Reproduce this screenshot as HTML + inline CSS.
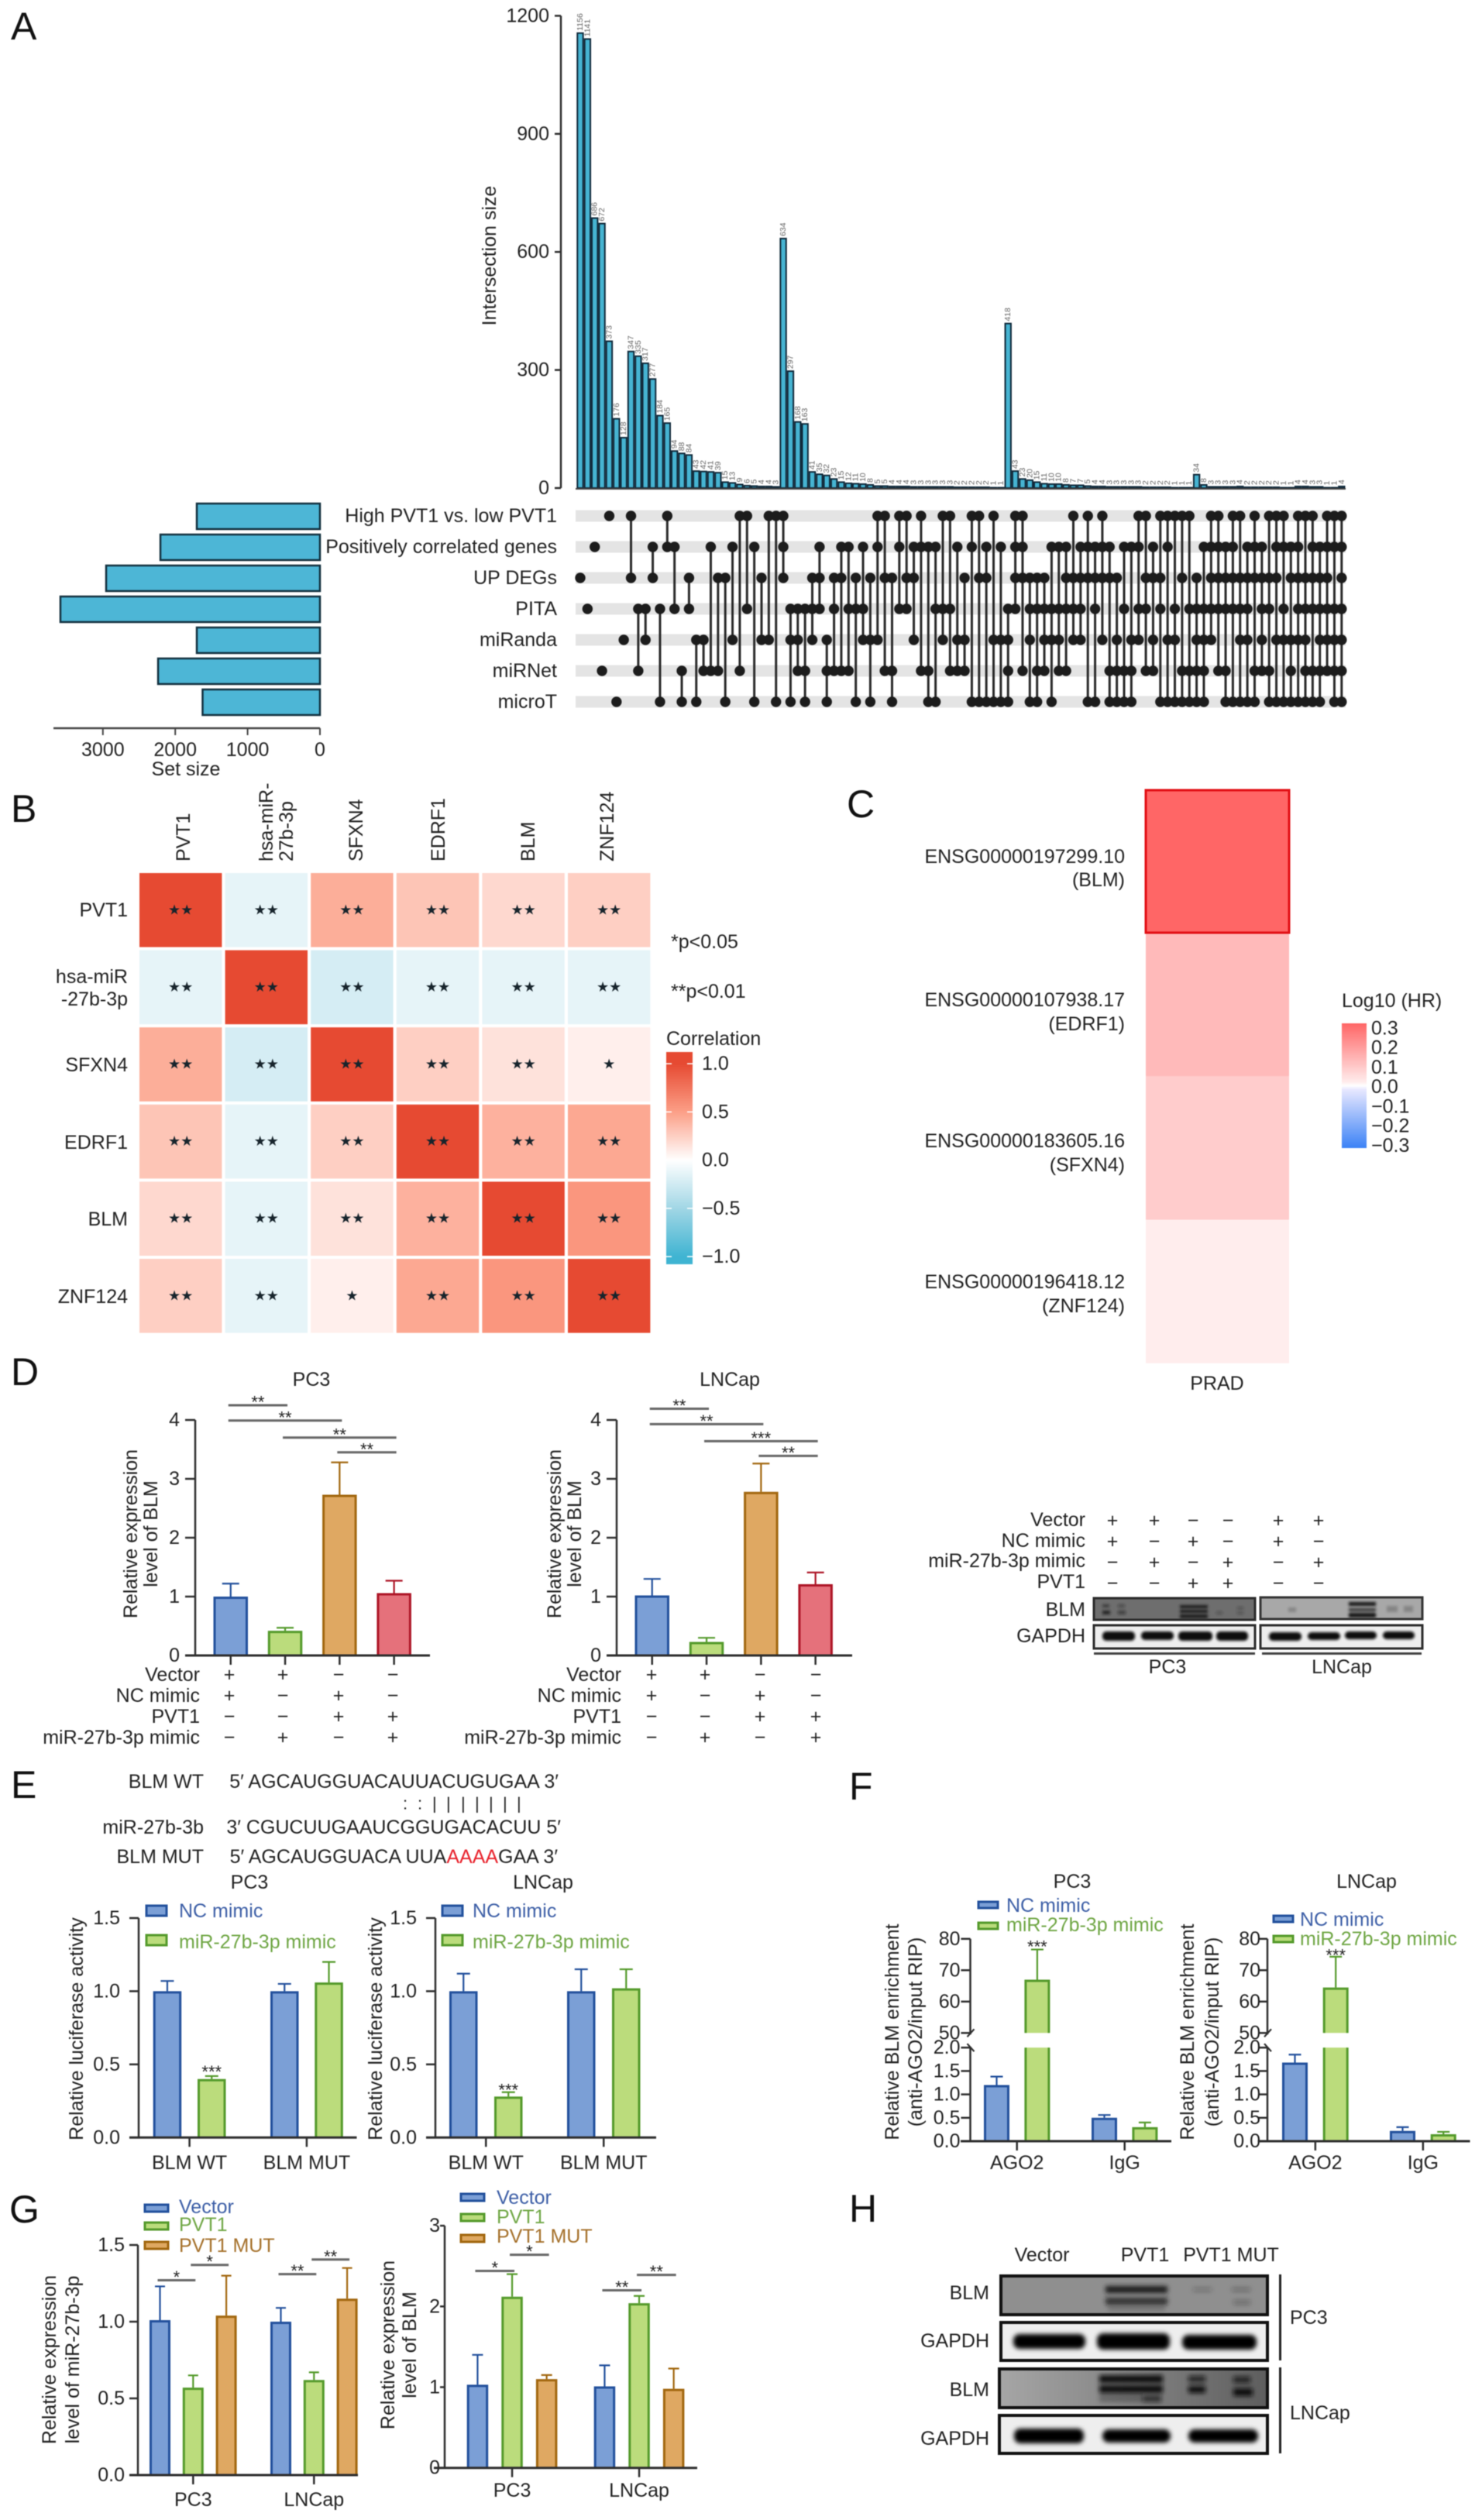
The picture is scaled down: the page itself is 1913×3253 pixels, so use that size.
<!DOCTYPE html>
<html lang="en">
<head>
<meta charset="utf-8">
<title>PVT1 / miR-27b-3p / BLM figure</title>
<style>
html,body{margin:0;padding:0;background:#fff}
svg{display:block;filter:blur(.5px)}
text{font-family:"Liberation Sans",sans-serif;font-size:25px;fill:#222;dominant-baseline:central}
.letter{font-size:50px;fill:#111}
.end{text-anchor:end}
.mid{text-anchor:middle}
.blue{fill:#3c5ea6}
.green{fill:#6fa644}
.brown{fill:#a5702a}
</style>
</head>
<body>
<svg id="root" width="1913" height="3253" viewBox="0 0 1913 3253">
<defs>
<filter id="b1" x="-30%" y="-80%" width="160%" height="260%"><feGaussianBlur stdDeviation="1.7"/></filter>
<filter id="b2" x="-30%" y="-80%" width="160%" height="260%"><feGaussianBlur stdDeviation="3"/></filter>
<linearGradient id="corrBar" x1="0" y1="0" x2="0" y2="1">
<stop offset="0" stop-color="#e64a32"/><stop offset=".055" stop-color="#e64a32"/><stop offset=".28" stop-color="#fc9e86"/><stop offset=".51" stop-color="#ffffff"/><stop offset=".74" stop-color="#a0d6e5"/><stop offset=".965" stop-color="#3fb4d2"/><stop offset="1" stop-color="#3fb4d2"/>
</linearGradient>
<linearGradient id="hrBar" x1="0" y1="0" x2="0" y2="1">
<stop offset="0" stop-color="#ff6666"/><stop offset=".47" stop-color="#ffecec"/><stop offset=".5" stop-color="#ffffff"/><stop offset=".53" stop-color="#e8e8ff"/><stop offset="1" stop-color="#3b82f6"/>
</linearGradient>
<linearGradient id="lncapBlot" x1="0" y1="0" x2="1" y2="0">
<stop offset="0" stop-color="#a6a6a6"/><stop offset=".4" stop-color="#8a8a8a"/><stop offset="1" stop-color="#5e5e5e"/>
</linearGradient>
</defs>

<!-- Panel A -->
<g id="panel-a">
<text class="letter" x="14" y="34">A</text>
<text class="mid" x="632" y="330" transform="rotate(-90 632 330)">Intersection size</text>
<text class="end" x="719" y="666">High PVT1 vs. low PVT1</text>
<text class="end" x="719" y="706">Positively correlated genes</text>
<text class="end" x="719" y="746">UP DEGs</text>
<text class="end" x="719" y="786">PITA</text>
<text class="end" x="719" y="826">miRanda</text>
<text class="end" x="719" y="866">miRNet</text>
<text class="end" x="719" y="906">microT</text>
<text class="mid" x="240" y="993">Set size</text>
</g>

<!-- Panel B -->
<g id="panel-b">
<text class="letter" x="14" y="1044">B</text>
<text x="237" y="1112" transform="rotate(-90 237 1112)">PVT1</text>
<text x="344" y="1112" transform="rotate(-90 344 1112)">hsa-miR-</text>
<text x="370" y="1112" transform="rotate(-90 370 1112)">27b-3p</text>
<text x="460" y="1112" transform="rotate(-90 460 1112)">SFXN4</text>
<text x="566" y="1112" transform="rotate(-90 566 1112)">EDRF1</text>
<text x="682" y="1112" transform="rotate(-90 682 1112)">BLM</text>
<text x="784" y="1112" transform="rotate(-90 784 1112)">ZNF124</text>
<text class="end" x="165" y="1175">PVT1</text>
<text class="end" x="165" y="1261">hsa-miR</text>
<text class="end" x="165" y="1290">-27b-3p</text>
<text class="end" x="165" y="1375">SFXN4</text>
<text class="end" x="165" y="1475">EDRF1</text>
<text class="end" x="165" y="1574">BLM</text>
<text class="end" x="165" y="1674">ZNF124</text>
<text x="866" y="1216">*p&lt;0.05</text>
<text x="866" y="1280">**p&lt;0.01</text>
<text x="860" y="1341">Correlation</text>
<rect x="860" y="1358" width="34" height="274" fill="url(#corrBar)"/>
</g>

<!-- Panel C -->
<g id="panel-c">
<text class="letter" x="1093" y="1038">C</text>
<text class="end" x="1452" y="1106">ENSG00000197299.10</text>
<text class="end" x="1452" y="1136">(BLM)</text>
<text class="end" x="1452" y="1291">ENSG00000107938.17</text>
<text class="end" x="1452" y="1322">(EDRF1)</text>
<text class="end" x="1452" y="1473">ENSG00000183605.16</text>
<text class="end" x="1452" y="1504">(SFXN4)</text>
<text class="end" x="1452" y="1655">ENSG00000196418.12</text>
<text class="end" x="1452" y="1686">(ZNF124)</text>
<text class="mid" x="1571" y="1786">PRAD</text>
<text x="1732" y="1292">Log10 (HR)</text>
<rect x="1732" y="1321" width="32" height="161" fill="url(#hrBar)"/>
</g>

<!-- Panel D -->
<g id="panel-d">
<text class="letter" x="14" y="1771">D</text>
<text class="mid" x="402" y="1781">PC3</text>
<text class="mid" x="942" y="1781">LNCap</text>
<text class="mid" x="169" y="1980" transform="rotate(-90 169 1980)">Relative expression</text>
<text class="mid" x="195" y="1980" transform="rotate(-90 195 1980)">level of BLM</text>
<text class="mid" x="716" y="1980" transform="rotate(-90 716 1980)">Relative expression</text>
<text class="mid" x="742" y="1980" transform="rotate(-90 742 1980)">level of BLM</text>
<text class="end" x="258" y="2162">Vector</text>
<text class="end" x="258" y="2189">NC mimic</text>
<text class="end" x="258" y="2216">PVT1</text>
<text class="end" x="258" y="2243">miR-27b-3p mimic</text>
<text class="end" x="802" y="2162">Vector</text>
<text class="end" x="802" y="2189">NC mimic</text>
<text class="end" x="802" y="2216">PVT1</text>
<text class="end" x="802" y="2243">miR-27b-3p mimic</text>
</g>

<!-- Panel D blot -->
<g id="blot-d">
<text class="end" x="1401" y="1962">Vector</text>
<text class="end" x="1401" y="1989">NC mimic</text>
<text class="end" x="1401" y="2015">miR-27b-3p mimic</text>
<text class="end" x="1401" y="2042">PVT1</text>
<text class="end" x="1401" y="2078">BLM</text>
<text class="end" x="1401" y="2112">GAPDH</text>
<g>
<rect x="1412" y="2063" width="208" height="28" fill="#6e6e6e"/>
<g filter="url(#b1)" fill="#1a1a1a">
<rect x="1423" y="2071" width="9" height="4" opacity=".6"/><rect x="1423" y="2079" width="10" height="5" opacity=".85"/>
<rect x="1443" y="2071" width="9" height="4" opacity=".4"/><rect x="1443" y="2079" width="10" height="5" opacity=".5"/>
<rect x="1523" y="2072" width="36" height="4"/><rect x="1523" y="2078" width="36" height="4"/><rect x="1523" y="2084" width="36" height="5"/>
<rect x="1570" y="2080" width="8" height="4" opacity=".3"/><rect x="1597" y="2074" width="8" height="4" opacity=".3"/><rect x="1597" y="2080" width="8" height="4" opacity=".3"/>
</g>
<rect x="1412" y="2063" width="208" height="28" fill="none" stroke="#2b2b2b" stroke-width="3"/>
</g>
<g>
<rect x="1627" y="2062" width="209" height="28" fill="#a8a8a8"/>
<g filter="url(#b1)" fill="#151515">
<rect x="1741" y="2068" width="35" height="5"/><rect x="1741" y="2076" width="35" height="4" opacity=".8"/><rect x="1741" y="2082" width="35" height="6"/>
<rect x="1663" y="2075" width="10" height="6" opacity=".2"/><rect x="1790" y="2073" width="14" height="8" opacity=".2"/><rect x="1812" y="2073" width="12" height="8" opacity=".2"/>
</g>
<rect x="1627" y="2062" width="209" height="28" fill="none" stroke="#333" stroke-width="3"/>
</g>
<g>
<rect x="1412" y="2098" width="208" height="30" fill="#eeeeee" stroke="#2b2b2b" stroke-width="3"/>
<g filter="url(#b1)" fill="#0a0a0a">
<rect x="1423" y="2106" width="42" height="12" rx="5"/><rect x="1473" y="2106" width="42" height="11" rx="5"/><rect x="1521" y="2106" width="44" height="12" rx="5"/><rect x="1570" y="2106" width="41" height="12" rx="5"/>
</g>
</g>
<g>
<rect x="1627" y="2098" width="209" height="30" fill="#eeeeee" stroke="#2b2b2b" stroke-width="3"/>
<g filter="url(#b1)" fill="#0a0a0a">
<rect x="1638" y="2107" width="42" height="11" rx="5"/><rect x="1688" y="2107" width="42" height="10" rx="5"/><rect x="1736" y="2106" width="41" height="10" rx="5"/><rect x="1785" y="2106" width="41" height="10" rx="5"/>
</g>
</g>
<rect x="1412" y="2133" width="208" height="3" fill="#444"/>
<rect x="1629" y="2133" width="206" height="3" fill="#444"/>
<text class="mid" x="1507" y="2152">PC3</text>
<text class="mid" x="1732" y="2152">LNCap</text>
</g>

<!-- Panel E -->
<g id="panel-e">
<text class="letter" x="14" y="2304">E</text>
<text class="end" x="263" y="2300">BLM WT</text>
<text class="end" x="721" y="2300">5′ AGCAUGGUACAUUACUGUGAA 3′</text>
<text x="520 539 558 576 595 613 631 649 667" y="2328" style="font-size:22px">::|||||||</text>
<text class="end" x="263" y="2359">miR-27b-3b</text>
<text class="end" x="724" y="2359">3′ CGUCUUGAAUCGGUGACACUU 5′</text>
<text class="end" x="263" y="2397">BLM MUT</text>
<text class="end" x="720" y="2397">5′ AGCAUGGUACA UUA<tspan fill="#e8202a" style="fill:#e8202a">AAAA</tspan>GAA 3′</text>
<text class="mid" x="322" y="2430">PC3</text>
<text class="mid" x="701" y="2430">LNCap</text>
<rect x="189" y="2460" width="26" height="13" fill="#7b9fd6" stroke="#22509c" stroke-width="3"/>
<text class="blue" x="231" y="2467">NC mimic</text>
<rect x="189" y="2498" width="26" height="13" fill="#bbdc7c" stroke="#549a2b" stroke-width="3"/>
<text class="green" x="231" y="2507">miR-27b-3p mimic</text>
<rect x="571" y="2460" width="26" height="13" fill="#7b9fd6" stroke="#22509c" stroke-width="3"/>
<text class="blue" x="610" y="2467">NC mimic</text>
<rect x="571" y="2498" width="26" height="13" fill="#bbdc7c" stroke="#549a2b" stroke-width="3"/>
<text class="green" x="610" y="2507">miR-27b-3p mimic</text>
<text class="mid" x="99" y="2619" transform="rotate(-90 99 2619)">Relative luciferase activity</text>
<text class="mid" x="485" y="2619" transform="rotate(-90 485 2619)">Relative luciferase activity</text>
</g>

<!-- Panel F -->
<g id="panel-f">
<text class="letter" x="1096" y="2306">F</text>
<text class="mid" x="1384" y="2429">PC3</text>
<text class="mid" x="1764" y="2429">LNCap</text>
<rect x="1263" y="2455" width="25" height="8" fill="#7b9fd6" stroke="#22509c" stroke-width="3"/>
<text class="blue" x="1299" y="2460">NC mimic</text>
<rect x="1263" y="2482" width="25" height="8" fill="#bbdc7c" stroke="#549a2b" stroke-width="3"/>
<text class="green" x="1299" y="2485">miR-27b-3p mimic</text>
<rect x="1644" y="2473" width="25" height="8" fill="#7b9fd6" stroke="#22509c" stroke-width="3"/>
<text class="blue" x="1678" y="2478">NC mimic</text>
<rect x="1644" y="2499" width="25" height="8" fill="#bbdc7c" stroke="#549a2b" stroke-width="3"/>
<text class="green" x="1678" y="2503">miR-27b-3p mimic</text>
<text class="mid" x="1152" y="2623" transform="rotate(-90 1152 2623)">Relative BLM enrichment</text>
<text class="mid" x="1182" y="2623" transform="rotate(-90 1182 2623)">(anti-AGO2/input RIP)</text>
<text class="mid" x="1533" y="2623" transform="rotate(-90 1533 2623)">Relative BLM enrichment</text>
<text class="mid" x="1565" y="2623" transform="rotate(-90 1565 2623)">(anti-AGO2/input RIP)</text>
</g>

<!-- Panel G -->
<g id="panel-g">
<text class="letter" x="12" y="2852">G</text>
<rect x="187" y="2846" width="30" height="9" fill="#7b9fd6" stroke="#22509c" stroke-width="3"/>
<text class="blue" x="231" y="2849">Vector</text>
<rect x="187" y="2869" width="30" height="9" fill="#bbdc7c" stroke="#549a2b" stroke-width="3"/>
<text class="green" x="231" y="2872">PVT1</text>
<rect x="187" y="2894" width="30" height="9" fill="#dfa862" stroke="#a2670f" stroke-width="3"/>
<text class="brown" x="231" y="2899">PVT1 MUT</text>
<rect x="595" y="2832" width="30" height="9" fill="#7b9fd6" stroke="#22509c" stroke-width="3"/>
<text class="blue" x="641" y="2837">Vector</text>
<rect x="595" y="2858" width="30" height="9" fill="#bbdc7c" stroke="#549a2b" stroke-width="3"/>
<text class="green" x="641" y="2862">PVT1</text>
<rect x="595" y="2885" width="30" height="9" fill="#dfa862" stroke="#a2670f" stroke-width="3"/>
<text class="brown" x="641" y="2887">PVT1 MUT</text>
<text class="mid" x="64" y="3046" transform="rotate(-90 64 3046)">Relative expression</text>
<text class="mid" x="94" y="3046" transform="rotate(-90 94 3046)">level of miR-27b-3p</text>
<text class="mid" x="501" y="3027" transform="rotate(-90 501 3027)">Relative expression</text>
<text class="mid" x="529" y="3027" transform="rotate(-90 529 3027)">level of BLM</text>
</g>

<!-- Panel H -->
<g id="panel-h">
<text class="letter" x="1096" y="2851">H</text>
<text class="mid" x="1345" y="2911">Vector</text>
<text class="mid" x="1478" y="2911">PVT1</text>
<text class="mid" x="1589" y="2911">PVT1 MUT</text>
<text class="end" x="1277" y="2960">BLM</text>
<text class="end" x="1277" y="3022">GAPDH</text>
<text class="end" x="1277" y="3085">BLM</text>
<text class="end" x="1277" y="3148">GAPDH</text>
<text x="1665" y="2992">PC3</text>
<text x="1665" y="3115">LNCap</text>
<rect x="1651" y="2936" width="3" height="111" fill="#222"/>
<rect x="1651" y="3056" width="3" height="111" fill="#222"/>
<g>
<rect x="1292" y="2938" width="344" height="50" fill="#8f8f8f"/>
<g filter="url(#b2)" fill="#1a1a1a">
<rect x="1427" y="2951" width="80" height="9"/><rect x="1427" y="2966" width="80" height="9" opacity=".8"/>
<rect x="1430" y="2977" width="74" height="6" opacity=".2"/>
<rect x="1540" y="2953" width="24" height="5" opacity=".25"/><rect x="1590" y="2953" width="24" height="5" opacity=".3"/><rect x="1592" y="2969" width="22" height="6" opacity=".3"/>
</g>
<rect x="1292" y="2938" width="344" height="50" fill="none" stroke="#111" stroke-width="4"/>
</g>
<g>
<rect x="1292" y="2998" width="344" height="49" fill="#eeeeee" stroke="#111" stroke-width="4"/>
<g filter="url(#b2)" fill="#000">
<rect x="1308" y="3013" width="93" height="19" rx="8"/><rect x="1416" y="3012" width="94" height="21" rx="8"/><rect x="1526" y="3014" width="96" height="19" rx="8"/>
</g>
</g>
<g>
<rect x="1290" y="3058" width="346" height="50" fill="url(#lncapBlot)"/>
<g filter="url(#b2)" fill="#0f0f0f">
<rect x="1419" y="3066" width="82" height="10"/><rect x="1419" y="3079" width="82" height="10"/><rect x="1475" y="3092" width="24" height="9" opacity=".7"/><rect x="1419" y="3091" width="56" height="10" opacity=".25"/>
<rect x="1534" y="3067" width="22" height="8" opacity=".8"/><rect x="1534" y="3080" width="22" height="9"/><rect x="1592" y="3068" width="22" height="8" opacity=".8"/><rect x="1592" y="3083" width="25" height="10"/>
</g>
<rect x="1290" y="3058" width="346" height="50" fill="none" stroke="#111" stroke-width="4"/>
</g>
<g>
<rect x="1290" y="3118" width="346" height="49" fill="#eeeeee" stroke="#111" stroke-width="4"/>
<g filter="url(#b2)" fill="#000">
<rect x="1309" y="3135" width="90" height="19" rx="8"/><rect x="1423" y="3136" width="88" height="17" rx="8"/><rect x="1534" y="3136" width="90" height="17" rx="8"/>
</g>
</g>
</g>
</svg>

<script>
// ---------- Panel A data ----------
const upsetValues = [1156,1141,686,672,373,176,128,347,335,317,277,184,165,94,88,84,43,42,41,39,15,13,9,6,5,4,4,3,634,297,168,163,41,35,32,23,15,12,11,10,8,5,5,4,4,4,3,3,3,3,3,3,2,2,2,2,2,1,1,418,43,23,20,15,11,10,10,8,7,7,5,4,4,3,3,3,3,3,2,2,2,2,1,1,1,34,8,3,3,3,3,4,2,2,2,2,2,1,1,4,4,3,3,1,1,4];
const setSizes = [1702,2205,2955,3587,1702,2237,1622];
const setSizeTicks = [0,1000,2000,3000];
const intersectionTicks = [0,300,600,900,1200];
const memberHigh = [4,7,12,22,23,26,27,28,41,42,44,45,47,50,51,54,55,57,60,61,68,70,72,77,78,80,81,82,83,84,87,88,90,91,93,95,96,97,99,100,101,103,104,105];
const memberPositive = [2,10,12,13,18,21,24,28,33,36,37,39,41,44,46,47,48,49,52,54,56,58,60,61,65,66,67,69,70,71,72,73,75,76,77,79,81,86,87,88,89,90,92,93,94,96,97,98,99,101,102,103,104,105];
const memberUp = [0,7,10,15,19,20,25,28,32,33,35,36,38,40,42,43,45,46,53,55,56,60,61,62,63,64,67,68,69,70,71,72,73,74,78,79,80,83,85,87,88,89,90,91,92,93,94,95,96,98,99,100,101,102,103,105];
const memberPita = [1,8,9,11,13,15,23,29,30,31,32,33,35,37,38,39,44,45,49,50,51,59,60,62,63,64,65,66,67,68,69,71,75,77,78,80,82,84,85,86,87,88,89,90,91,92,94,95,97,99,100,101,102,103,104,105];
const memberMiranda = [6,9,16,17,21,25,26,29,30,32,34,39,40,41,46,50,52,53,57,58,59,62,64,65,66,68,69,72,74,76,77,79,81,82,85,86,87,91,92,94,96,97,98,99,100,102,103,104,105];
const memberMirnet = [3,8,14,17,18,19,22,30,31,34,35,36,37,42,43,47,48,51,52,53,59,61,63,64,66,67,73,74,75,76,78,79,83,84,85,86,88,89,93,94,95,98,100,101,102,103,104,105];
const memberMicrot = [5,11,14,16,20,24,27,29,31,34,38,40,43,48,49,54,55,56,57,58,59,62,63,65,70,71,73,74,75,76,80,81,82,83,84,85,86,89,90,91,92,93,95,96,97,98,99,100,101,102,104,105];

// ---------- Panel B data ----------
const corrPvt1 = [1,-0.13,0.42,0.3,0.2,0.25];
const corrMir = [-0.13,1,-0.22,-0.13,-0.13,-0.13];
const corrSfxn4 = [0.42,-0.22,1,0.25,0.15,0.08];
const corrEdrf1 = [0.3,-0.13,0.25,1,0.4,0.45];
const corrBlm = [0.2,-0.13,0.15,0.4,1,0.55];
const corrZnf124 = [0.25,-0.13,0.08,0.45,0.55,1];
const corrStarRows = [[2,2,2,2,2,2],[2,2,2,2,2,2],[2,2,2,2,2,1],[2,2,2,2,2,2],[2,2,2,2,2,2],[2,2,1,2,2,2]];
const corrBarTicks = [1,0.5,0,-0.5,-1];
const corrBarTickLabels = ['1.0','0.5','0.0','−0.5','−1.0'];

// ---------- Panel C data ----------
const hrValues = [0.3,0.135,0.1,0.035];
const hrTicks = [0.3,0.2,0.1,0,-0.1,-0.2,-0.3];
const hrTickLabels = ['0.3','0.2','0.1','0.0','−0.1','−0.2','−0.3'];

// ---------- Panel D data ----------
const d1Means = [1.0,0.42,2.73,1.06];
const d1Tops = [1.22,0.47,3.28,1.27];
const d2Means = [1.02,0.23,2.78,1.21];
const d2Tops = [1.3,0.3,3.26,1.41];
const dTicks = [0,1,2,3,4];
const dTickLabels = ['0','1','2','3','4'];
const d1SigFrom = [0,0,1,2];
const d1SigTo = [1,2,3,3];
const d1SigLevel = [4.25,3.99,3.7,3.45];
const d1SigText = ['**','**','**','**'];
const d2SigFrom = [0,0,1,2];
const d2SigTo = [1,2,3,3];
const d2SigLevel = [4.19,3.93,3.64,3.39];
const d2SigText = ['**','**','***','**'];
const signVector = ['+','+','−','−'];
const signNcMimic = ['+','−','+','−'];
const signPvt1 = ['−','−','+','+'];
const signMirMimic = ['−','+','−','+'];
const blotSignVector = ['+','+','−','−','+','+'];
const blotSignNc = ['+','−','+','−','+','−'];
const blotSignMir = ['−','+','−','+','−','+'];
const blotSignPvt1 = ['−','−','+','+','−','−'];

// ---------- Panel E data ----------
const eCategories = ['BLM WT','BLM MUT'];
const eTicks = [0,0.5,1,1.5];
const eTickLabels = ['0.0','0.5','1.0','1.5'];
const e1NcMeans = [1.0,1.0];
const e1NcTops = [1.07,1.05];
const e1MimicMeans = [0.4,1.06];
const e1MimicTops = [0.42,1.2];
const e2NcMeans = [1.0,1.0];
const e2NcTops = [1.12,1.15];
const e2MimicMeans = [0.28,1.02];
const e2MimicTops = [0.31,1.15];

// ---------- Panel F data ----------
const fCategories = ['AGO2','IgG'];
const fTicks = [0,0.5,1,1.5,2,50,60,70,80];
const fTickLabels = ['0.0','0.5','1.0','1.5','2.0','50','60','70','80'];
const f1NcMeans = [1.2,0.5];
const f1NcTops = [1.38,0.56];
const f1MimicMeans = [67,0.3];
const f1MimicTops = [76.6,0.4];
const f2NcMeans = [1.68,0.22];
const f2NcTops = [1.85,0.3];
const f2MimicMeans = [64.5,0.15];
const f2MimicTops = [74.3,0.2];

// ---------- Panel G data ----------
const gCategories = ['PC3','LNCap'];
const g1Ticks = [0,0.5,1,1.5];
const g1TickLabels = ['0.0','0.5','1.0','1.5'];
const g1VectorMeans = [1.01,1.0];
const g1VectorTops = [1.23,1.09];
const g1Pvt1Means = [0.57,0.62];
const g1Pvt1Tops = [0.65,0.67];
const g1MutMeans = [1.04,1.15];
const g1MutTops = [1.3,1.35];
const g1SigFrom = [0,1,3,4];
const g1SigTo = [1,2,4,5];
const g1SigLevel = [1.27,1.37,1.31,1.405];
const g1SigText = ['*','*','**','**'];
const g2Ticks = [0,1,2,3];
const g2TickLabels = ['0','1','2','3'];
const g2VectorMeans = [1.03,1.01];
const g2VectorTops = [1.4,1.27];
const g2Pvt1Means = [2.12,2.04];
const g2Pvt1Tops = [2.4,2.13];
const g2MutMeans = [1.1,0.98];
const g2MutTops = [1.15,1.23];
const g2SigFrom = [0,1,3,4];
const g2SigTo = [1,2,4,5];
const g2SigLevel = [2.44,2.64,2.2,2.39];
const g2SigText = ['*','*','**','**'];

// ---------- Drawing helpers ----------
const root = document.getElementById('root');
function mk(tag, parent, attrs, text) {
  const el = document.createElementNS(root.namespaceURI, tag);
  for (const k in attrs) el.setAttribute(k, attrs[k]);
  if (text !== undefined) el.textContent = text;
  parent.appendChild(el);
  return el;
}
const BLUE = {fill:'#7b9fd6', stroke:'#22509c'};
const GREEN = {fill:'#bbdc7c', stroke:'#549a2b'};
const ORANGE = {fill:'#dfa862', stroke:'#a2670f'};
const RED = {fill:'#e5717b', stroke:'#ad1526'};
const AXIS = '#2e2e2e';

// ---------- Panel A ----------
(function () {
  const g = document.getElementById('panel-a');
  const upX = i => 749 + i * 9.36;
  const upY = v => 630 - v * 0.508;
  const setX = v => 413 - v * 0.0934;
  const rowY = r => 666 + r * 40;
  const members = [memberHigh, memberPositive, memberUp, memberPita, memberMiranda, memberMirnet, memberMicrot];

  const yAxis = mk('line', g, {x1:724, x2:724, y1:upY(1200), y2:upY(0), stroke:AXIS, 'stroke-width':2.5});
  
  
  intersectionTicks.forEach(t => {
    const tick = mk('line', g, {x1:716, x2:724, y1:upY(t), y2:upY(t), stroke:AXIS, 'stroke-width':2.5});
    
    
    const label = mk('text', g, {x:709, y:upY(t), class:'end'}, String(t));
    
    
  });
  upsetValues.forEach((v, i) => {
    const bar = mk('rect', g, {x:upX(i)-3.7, y:upY(v), width:7.4, height:Math.max(0,upY(0)-upY(v)), fill:'#46b4d2', stroke:'#10293a', 'stroke-width':2});
    
    
    const lx = upX(i), ly = upY(v) - 3;
    const label = mk('text', g, {x:lx, y:ly, transform:'rotate(-90 '+lx+' '+ly+')', style:'font-size:10.5px;fill:#666'}, String(v));
    
    
  });
  const baseline = mk('line', g, {x1:743, x2:1737, y1:631, y2:631, stroke:'#444', 'stroke-width':2});
  
  

  setSizes.forEach((v, r) => {
    const bar = mk('rect', g, {x:setX(v), y:rowY(r)-16, width:setX(0)-setX(v), height:33, fill:'#4db6d6', stroke:'#12303f', 'stroke-width':2.5});
    
    
  });
  const sAxis = mk('line', g, {x1:69, x2:413, y1:940, y2:940, stroke:'#444', 'stroke-width':2.5});
  
  
  setSizeTicks.forEach(t => {
    const tick = mk('line', g, {x1:setX(t), x2:setX(t), y1:940, y2:949, stroke:'#444', 'stroke-width':2});
    
    
    const label = mk('text', g, {x:setX(t), y:968, class:'mid'}, String(t));
    
    
  });

  members.forEach((m, r) => {
    const band = mk('rect', g, {x:743, y:rowY(r)-7.5, width:994, height:15, fill:'#e4e4e4'});
    
    
  });
  upsetValues.forEach((v, i) => {
    const rows = [];
    members.forEach((m, r) => { if (m.includes(i)) rows.push(r); });
    if (rows.length > 1) {
      const link = mk('line', g, {x1:upX(i), x2:upX(i), y1:rowY(rows[0]), y2:rowY(rows[rows.length-1]), stroke:'#2a2a2a', 'stroke-width':3});
      
      
    }
    rows.forEach(r => {
      const dot = mk('circle', g, {cx:upX(i), cy:rowY(r), r:6.7, fill:'#1c1c1c'});
      
      
    });
  });
})();

// ---------- Panel B ----------
(function () {
  const g = document.getElementById('panel-b');
  const rows = [corrPvt1, corrMir, corrSfxn4, corrEdrf1, corrBlm, corrZnf124];
  const cellX = c => 180 + c * 110.6;
  const cellY = r => 1127 + r * 99.6;
  const pos = [[255,255,255],[252,158,134],[230,74,50]];
  const neg = [[255,255,255],[160,214,229],[63,180,210]];
  function corrColor(v) {
    const s = v >= 0 ? pos : neg;
    const t = Math.min(1, Math.abs(v)) * 2;
    const a = t < 1 ? s[0] : s[1], b = t < 1 ? s[1] : s[2], f = t < 1 ? t : t - 1;
    return 'rgb(' + a.map((x, i) => Math.round(x + (b[i] - x) * f)).join(',') + ')';
  }
  rows.forEach((row, r) => row.forEach((v, c) => {
    const cell = mk('rect', g, {x:cellX(c), y:cellY(r), width:106.4, height:95.6, fill:corrColor(v)});
    
    
    const stars = mk('text', g, {x:cellX(c)+53.2, y:cellY(r)+47.8, class:'mid', style:'font-family:"DejaVu Sans",sans-serif;font-size:18px;fill:#17242c'}, '★'.repeat(corrStarRows[r][c]));
    
    
  }));
  const barY = v => 1497.6 - v * 124.5;
  corrBarTicks.forEach((t, i) => {
    const a = mk('line', g, {x1:860, x2:867, y1:barY(t), y2:barY(t), stroke:'#fff', 'stroke-width':1.5});
    
    
    const b = mk('line', g, {x1:887, x2:894, y1:barY(t), y2:barY(t), stroke:'#fff', 'stroke-width':1.5});
    
    
    const label = mk('text', g, {x:906, y:barY(t)}, corrBarTickLabels[i]);
    
    
  });
})();

// ---------- Panel C ----------
(function () {
  const g = document.getElementById('panel-c');
  const cellY = r => 1019 + r * 185.2;
  hrValues.forEach((v, r) => {
    const ch = Math.round(255 - (v / 0.3) * 153);
    const cell = mk('rect', g, {x:1479, y:cellY(r), width:185, height:185.2, fill:'rgb(255,'+ch+','+ch+')'});
    
    
  });
  const hi = mk('rect', g, {x:1479, y:cellY(0)+1, width:185, height:184, fill:'none', stroke:'#e20f14', 'stroke-width':3});
  
  
  const legY = v => 1403 - v * 252.5;
  hrTicks.forEach((t, i) => {
    const label = mk('text', g, {x:1770, y:legY(t)}, hrTickLabels[i]);
    
    
  });
})();

// ---------- Bar charts ----------
function drawChart(cfg) {
  const g = document.getElementById(cfg.parent);
  const yOf = cfg.yOf;
  const base = yOf(0);
  const centers = [];
  cfg.series.forEach((s, si) => s.means.forEach((v, gi) => {
    const left = cfg.start + gi * cfg.groupPitch + si * cfg.seriesPitch;
    const cx = left + cfg.barW / 2;
    centers[gi * cfg.series.length + si] = cx;
    const st = cfg.groupStyles ? cfg.groupStyles[gi] : s.style;
    const l = left + 1.5, r = left + cfg.barW - 1.5;
    const err = mk('path', g, {d:'M'+cx+' '+yOf(v)+'V'+yOf(s.tops[gi])+'M'+(cx-cfg.capW/2)+' '+yOf(s.tops[gi])+'H'+(cx+cfg.capW/2), fill:'none', stroke:st.stroke, 'stroke-width':2.2});
    
    
    if (cfg.breakLow !== undefined && v > cfg.breakLow) {
      const top = yOf(cfg.breakHigh);
      const low = yOf(cfg.breakLow);
      const upper = mk('path', g, {d:'M'+l+' '+top+'V'+(yOf(v)+1.5)+'H'+r+'V'+top, fill:st.fill, stroke:st.stroke, 'stroke-width':3});
      
      
      const lower = mk('rect', g, {x:l, y:low, width:r-l, height:base-low, fill:st.fill});
      
      
      const sides = mk('path', g, {d:'M'+l+' '+low+'V'+base+'M'+r+' '+low+'V'+base, fill:'none', stroke:st.stroke, 'stroke-width':3});
      
      
    } else {
      const bar = mk('path', g, {d:'M'+l+' '+base+'V'+(yOf(v)+1.5)+'H'+r+'V'+base, fill:st.fill, stroke:st.stroke, 'stroke-width':3});
      
      
    }
  }));
  if (cfg.breakLow !== undefined) {
    const up = mk('line', g, {x1:cfg.axisX, x2:cfg.axisX, y1:yOf(cfg.ticks[cfg.ticks.length-1]), y2:yOf(cfg.breakHigh)+2, stroke:AXIS, 'stroke-width':2.5});
    
    
    const low = mk('line', g, {x1:cfg.axisX, x2:cfg.axisX, y1:yOf(cfg.breakLow)-1, y2:base, stroke:AXIS, 'stroke-width':2.5});
    
    
    const sl1 = mk('line', g, {x1:cfg.axisX-4, x2:cfg.axisX+5, y1:yOf(cfg.breakHigh)+5, y2:yOf(cfg.breakHigh)-5, stroke:AXIS, 'stroke-width':2.2});
    
    
    const sl2 = mk('line', g, {x1:cfg.axisX-4, x2:cfg.axisX+5, y1:yOf(cfg.breakLow)-5, y2:yOf(cfg.breakLow)+5, stroke:AXIS, 'stroke-width':2.2});
    
    
  } else {
    const axis = mk('line', g, {x1:cfg.axisX, x2:cfg.axisX, y1:yOf(cfg.ticks[cfg.ticks.length-1]), y2:base, stroke:AXIS, 'stroke-width':2.5});
    
    
  }
  cfg.ticks.forEach((t, i) => {
    const tick = mk('line', g, {x1:cfg.axisX-cfg.tickLen, x2:cfg.axisX, y1:yOf(t), y2:yOf(t), stroke:AXIS, 'stroke-width':2.5});
    
    
    const label = mk('text', g, {x:cfg.axisX-cfg.labelGap, y:yOf(t), class:'end'}, cfg.tickLabels[i]);
    
    
  });
  const xAxis = mk('line', g, {x1:cfg.xStart, x2:cfg.xEnd, y1:base, y2:base, stroke:AXIS, 'stroke-width':3});
  
  
  const nGroups = cfg.series[0].means.length;
  for (let gi = 0; gi < nGroups; gi++) {
    const sl = cfg.series.length;
    const cx = (centers[gi*sl] + centers[gi*sl+sl-1]) / 2;
    const tick = mk('line', g, {x1:cx, x2:cx, y1:base, y2:base+12, stroke:AXIS, 'stroke-width':2.5});
    
    
    if (cfg.categories) {
      const label = mk('text', g, {x:cx, y:cfg.labelY, class:'mid'}, cfg.categories[gi]);
      
      
    }
  }
  if (cfg.sigFrom) cfg.sigFrom.forEach((from, i) => {
    const y = yOf(cfg.sigLevel[i]);
    const x1 = centers[from] - cfg.sigPad, x2 = centers[cfg.sigTo[i]] + cfg.sigPad;
    const ln = mk('line', g, {x1:x1, x2:x2, y1:y, y2:y, stroke:'#666', 'stroke-width':3});
    
    
    const star = mk('text', g, {x:(x1+x2)/2, y:y-4, class:'mid', style:'font-size:22px'}, cfg.sigText[i]);
    
    
  });
  if (cfg.barStars) cfg.barStars.forEach(b => {
    const star = mk('text', g, {x:centers[b.index], y:yOf(b.level)+4, class:'mid', style:'font-size:22px'}, b.text);
    
    
  });
}
function drawSigns(parentId, xs, y, signs) {
  const g = document.getElementById(parentId);
  signs.forEach((s, i) => {
    const mark = mk('text', g, {x:xs[i], y:y, class:'mid'}, s);
    
    
  });
}

// Panel D
const dY = v => 2137 - v * 76;
drawChart({parent:'panel-d', yOf:dY, start:275.5, groupPitch:70.3, seriesPitch:0, barW:44.5, capW:22, axisX:252, tickLen:13, labelGap:20, xStart:239, xEnd:555,
  ticks:dTicks, tickLabels:dTickLabels, groupStyles:[BLUE,GREEN,ORANGE,RED], series:[{means:d1Means, tops:d1Tops}],
  sigFrom:d1SigFrom, sigTo:d1SigTo, sigLevel:d1SigLevel, sigText:d1SigText, sigPad:3});
drawChart({parent:'panel-d', yOf:dY, start:819.5, groupPitch:70.3, seriesPitch:0, barW:44.5, capW:22, axisX:796, tickLen:13, labelGap:20, xStart:783, xEnd:1100,
  ticks:dTicks, tickLabels:dTickLabels, groupStyles:[BLUE,GREEN,ORANGE,RED], series:[{means:d2Means, tops:d2Tops}],
  sigFrom:d2SigFrom, sigTo:d2SigTo, sigLevel:d2SigLevel, sigText:d2SigText, sigPad:3});
[[296,365,437,507],[841,910,981,1053]].forEach(xs => {
  drawSigns('panel-d', xs, 2162, signVector);
  drawSigns('panel-d', xs, 2189, signNcMimic);
  drawSigns('panel-d', xs, 2216, signPvt1);
  drawSigns('panel-d', xs, 2243, signMirMimic);
});
const blotXs = [1436,1490,1540,1585,1650,1702];
drawSigns('blot-d', blotXs, 1963, blotSignVector);
drawSigns('blot-d', blotXs, 1990, blotSignNc);
drawSigns('blot-d', blotXs, 2017, blotSignMir);
drawSigns('blot-d', blotXs, 2044, blotSignPvt1);

// Panel E
const eY = v => 2759.3 - v * 188.9;
drawChart({parent:'panel-e', yOf:eY, start:197.7, groupPitch:151.3, seriesPitch:57.3, barW:36.5, capW:17, axisX:179, tickLen:12, labelGap:24, xStart:167, xEnd:460.5,
  ticks:eTicks, tickLabels:eTickLabels, categories:eCategories, labelY:2792,
  series:[{means:e1NcMeans, tops:e1NcTops, style:BLUE},{means:e1MimicMeans, tops:e1MimicTops, style:GREEN}],
  barStars:[{index:1, level:0.47, text:'***'}]});
drawChart({parent:'panel-e', yOf:eY, start:580, groupPitch:152, seriesPitch:58, barW:36.5, capW:17, axisX:562, tickLen:12, labelGap:24, xStart:550, xEnd:847,
  ticks:eTicks, tickLabels:eTickLabels, categories:eCategories, labelY:2792,
  series:[{means:e2NcMeans, tops:e2NcTops, style:BLUE},{means:e2MimicMeans, tops:e2MimicTops, style:GREEN}],
  barStars:[{index:1, level:0.345, text:'***'}]});

// Panel F
const fY = v => v >= 50 ? 2624.3 - (v - 50) * 4.05 : 2764 - v * 60.4;
drawChart({parent:'panel-f', yOf:fY, breakLow:2, breakHigh:50, start:1270, groupPitch:139, seriesPitch:52.4, barW:33, capW:16, axisX:1252.5, tickLen:12, labelGap:13, xStart:1240, xEnd:1512,
  ticks:fTicks, tickLabels:fTickLabels, categories:fCategories, labelY:2792,
  series:[{means:f1NcMeans, tops:f1NcTops, style:BLUE},{means:f1MimicMeans, tops:f1MimicTops, style:GREEN}],
  barStars:[{index:1, level:78.5, text:'***'}]});
drawChart({parent:'panel-f', yOf:fY, breakLow:2, breakHigh:50, start:1655, groupPitch:139, seriesPitch:52.7, barW:33, capW:16, axisX:1636, tickLen:12, labelGap:9, xStart:1623.5, xEnd:1897.5,
  ticks:fTicks, tickLabels:fTickLabels, categories:fCategories, labelY:2792,
  series:[{means:f2NcMeans, tops:f2NcTops, style:BLUE},{means:f2MimicMeans, tops:f2MimicTops, style:GREEN}],
  barStars:[{index:1, level:75.7, text:'***'}]});

// Panel G
const g1Y = v => 3195 - v * 198;
drawChart({parent:'panel-g', yOf:g1Y, start:193, groupPitch:156, seriesPitch:42.8, barW:27, capW:13, axisX:178, tickLen:11, labelGap:17, xStart:167, xEnd:462,
  ticks:g1Ticks, tickLabels:g1TickLabels, categories:gCategories, labelY:3227,
  series:[{means:g1VectorMeans, tops:g1VectorTops, style:BLUE},{means:g1Pvt1Means, tops:g1Pvt1Tops, style:GREEN},{means:g1MutMeans, tops:g1MutTops, style:ORANGE}],
  sigFrom:g1SigFrom, sigTo:g1SigTo, sigLevel:g1SigLevel, sigText:g1SigText, sigPad:3});
const g2Y = v => 3185.7 - v * 104.2;
drawChart({parent:'panel-g', yOf:g2Y, start:602.7, groupPitch:164, seriesPitch:44.6, barW:27.5, capW:14, axisX:574, tickLen:6, labelGap:6, xStart:560, xEnd:900,
  ticks:g2Ticks, tickLabels:g2TickLabels, categories:gCategories, labelY:3215,
  series:[{means:g2VectorMeans, tops:g2VectorTops, style:BLUE},{means:g2Pvt1Means, tops:g2Pvt1Tops, style:GREEN},{means:g2MutMeans, tops:g2MutTops, style:ORANGE}],
  sigFrom:g2SigFrom, sigTo:g2SigTo, sigLevel:g2SigLevel, sigText:g2SigText, sigPad:3});
</script>
</body>
</html>
